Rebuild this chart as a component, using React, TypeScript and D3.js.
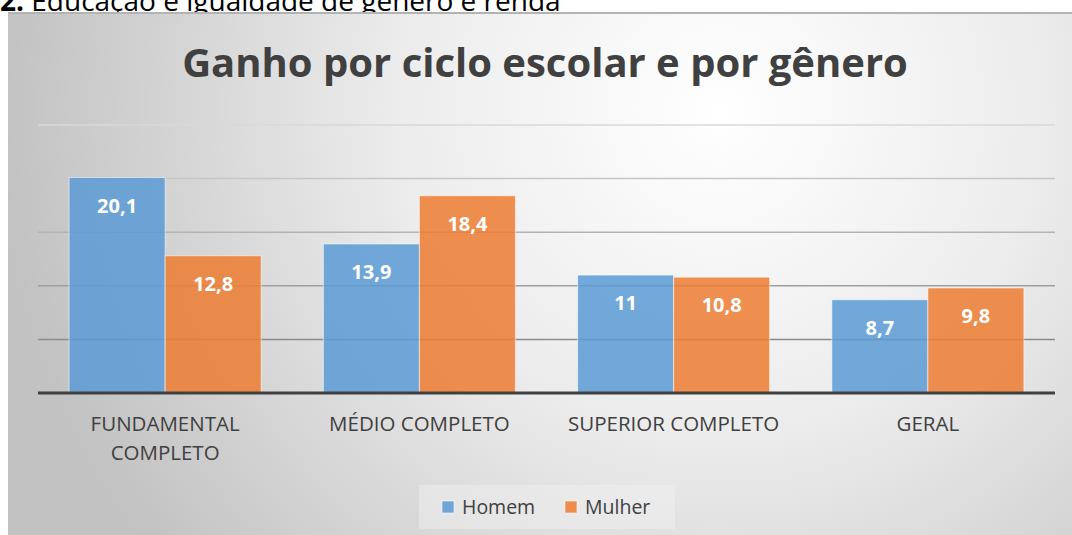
import * as d3 from "d3";

// categorias e séries
const categories = ["FUNDAMENTAL COMPLETO", "MÉDIO COMPLETO", "SUPERIOR COMPLETO", "GERAL"];
const categoryLines = [["FUNDAMENTAL", "COMPLETO"], ["MÉDIO COMPLETO"], ["SUPERIOR COMPLETO"], ["GERAL"]];
const seriesNames = ["Homem", "Mulher"];
const homem = [20.1, 13.9, 11, 8.7];
const mulher = [12.8, 18.4, 10.8, 9.8];
const gridTicks = [5, 10, 15, 20, 25];

const colors: Record<string, string> = { Homem: "#5B9BD5", Mulher: "#ED7D31" };
const FONT = "'Open Sans', 'Noto Sans', sans-serif";

const W = 1072;
const H = 535;
const plot = { left: 38, right: 1055, top: 125, bottom: 393 };

const fmt = (v: number) => String(v).replace(".", ",");

export default function App() {
  const x0 = d3.scaleBand<string>().domain(categories).range([plot.left, plot.right]).padding(0);
  const x1 = d3
    .scaleBand<string>()
    .domain(seriesNames)
    .range([0, x0.bandwidth()])
    .paddingInner(0)
    .paddingOuter(0.324);
  const y = d3.scaleLinear().domain([0, 25]).range([plot.bottom, plot.top]);
  const gridColor = d3.scaleLinear<string>().domain([5, 25]).range(["#8c8c8c", "#d9d9d9"]);

  const rows = categories.map((c, i) => ({ cat: c, values: [homem[i], mulher[i]] }));

  return (
    <svg
      width={W}
      height={H}
      style={{ position: "absolute", left: 0, top: 0, background: "#fff" }}
    >
      <defs>
        <radialGradient id="bg" gradientUnits="userSpaceOnUse" cx={720} cy={110} r={720}>
          <stop offset="0" stopColor="#ffffff" />
          <stop offset="0.45" stopColor="#ececec" />
          <stop offset="1" stopColor="#c2c2c2" />
        </radialGradient>
      </defs>

      <text x={0} y={11} fontFamily={FONT} fontSize={28} fill="#000">
        <tspan fontWeight="bold">2.</tspan> Educação e igualdade de gênero e renda
      </text>

      <rect x={8} y={13} width={W - 8} height={H - 13} fill="url(#bg)" />
      <line x1={8} x2={W} y1={13} y2={13} stroke="#b3b3b3" strokeWidth={2} />

      <text
        x={545}
        y={77}
        textAnchor="middle"
        fontFamily={FONT}
        fontSize={40}
        fontWeight="bold"
        fill="#404040"
      >
        Ganho por ciclo escolar e por gênero
      </text>

      {gridTicks.map((t) => (
        <line
          key={t}
          x1={plot.left}
          x2={plot.right}
          y1={y(t)}
          y2={y(t)}
          stroke={gridColor(t)}
          strokeWidth={1.5}
        />
      ))}

      {rows.map((r) => (
        <g key={r.cat} transform={`translate(${x0(r.cat)},0)`}>
          {r.values.map((v, j) => {
            const s = seriesNames[j];
            const bx = x1(s) as number;
            return (
              <g key={s}>
                <rect
                  x={bx}
                  y={y(v)}
                  width={x1.bandwidth()}
                  height={y(0) - y(v)}
                  fill={colors[s]}
                  fillOpacity={0.85}
                  stroke="#ffffff"
                  strokeOpacity={0.55}
                  strokeWidth={1}
                />
                <text
                  x={bx + x1.bandwidth() / 2}
                  y={y(v) + 28}
                  dy="0.35em"
                  textAnchor="middle"
                  fontFamily={FONT}
                  fontSize={20}
                  fontWeight="bold"
                  fill="#ffffff"
                >
                  {fmt(v)}
                </text>
              </g>
            );
          })}
        </g>
      ))}

      <line
        x1={plot.left}
        x2={plot.right}
        y1={y(0)}
        y2={y(0)}
        stroke="#404040"
        strokeWidth={3}
      />

      {categories.map((c, i) => (
        <text
          key={c}
          x={(x0(c) as number) + x0.bandwidth() / 2}
          y={424}
          textAnchor="middle"
          fontFamily={FONT}
          fontSize={20.5}
          fill="#404040"
        >
          {categoryLines[i].map((ln, k) => (
            <tspan key={k} x={(x0(c) as number) + x0.bandwidth() / 2} dy={k === 0 ? "0.35em" : 29}>
              {ln}
            </tspan>
          ))}
        </text>
      ))}

      <rect x={419} y={485} width={256} height={44} fill="#f2f2f2" fillOpacity={0.45} />
      {seriesNames.map((s, i) => {
        const lx = [442, 565][i];
        return (
          <g key={s}>
            <rect
              x={lx}
              y={501}
              width={12}
              height={12}
              fill={colors[s]}
              fillOpacity={0.85}
              stroke="#ffffff"
              strokeOpacity={0.55}
            />
            <text
              x={lx + 20}
              y={507}
              dy="0.35em"
              fontFamily={FONT}
              fontSize={19.5}
              fill="#404040"
            >
              {s}
            </text>
          </g>
        );
      })}
    </svg>
  );
}
